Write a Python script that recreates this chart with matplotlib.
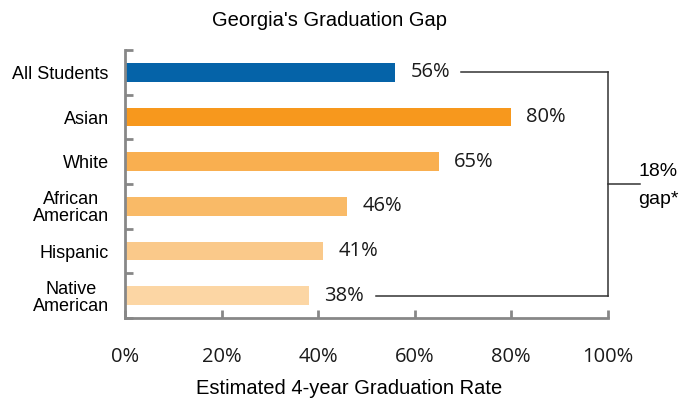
import matplotlib.pyplot as plt
import numpy as np

# Data
groups = ['All Students', 'Asian', 'White', 'African\nAmerican', 'Hispanic', 'Native\nAmerican']
rates = [56, 80, 65, 46, 41, 38]
bar_colors = ['#0563a8', '#f7981d', '#f9af50', '#f9ba67', '#fac98a', '#fcd6a4']
x_ticks = [0, 20, 40, 60, 80, 100]
x_tick_labels = ['0%', '20%', '40%', '60%', '80%', '100%']
gap_label = ['18%', 'gap*']

fig = plt.figure(figsize=(6.81, 4.0), dpi=100)
ax = fig.add_axes([125.5 / 681, 1 - 318 / 400, (607.5 - 125.5) / 681, (318 - 50) / 400])

y = np.arange(len(groups))
ax.barh(y, rates, height=0.42, color=bar_colors, zorder=2)

ax.set_xlim(0, 100)
ax.set_ylim(len(groups) - 0.5, -0.5)

# Value labels next to each bar
for yi, r in zip(y, rates):
    ax.annotate(f'{r}%', xy=(r, yi), xytext=(11, 0), textcoords='offset points',
                ha='left', va='center', fontsize=14.5, family='Open Sans', color='#1a1a1a')

# Spines / ticks
for side in ['top', 'right']:
    ax.spines[side].set_visible(False)
for side in ['left', 'bottom']:
    ax.spines[side].set_color('#878787')
    ax.spines[side].set_linewidth(2)

ax.set_xticks(x_ticks)
ax.set_xticklabels(x_tick_labels, family='Open Sans', fontsize=14.5, color='#1a1a1a')
ax.tick_params(axis='x', direction='in', length=6, width=2, color='#878787', pad=21)

ax.set_yticks(y)
ax.set_yticklabels(groups, family='Liberation Sans', fontsize=13)
for lab in ax.get_yticklabels():
    lab.set_multialignment('center')
    lab.set_linespacing(1.0)
ax.tick_params(axis='y', which='major', length=0, pad=12)
ax.set_yticks(np.arange(-0.5, len(groups), 1.0), minor=True)
ax.tick_params(axis='y', which='minor', direction='in', length=6, width=2, color='#878787')

# Gap bracket between "All Students" and lowest group
line_kw = dict(color='#333333', linewidth=1.1, clip_on=False)
ax.plot([69.6, 100.1], [0, 0], **line_kw)
ax.plot([52.0, 100.1], [5, 5], **line_kw)
ax.plot([100.1, 100.1], [0, 5], **line_kw)
ax.plot([100.1, 106.7], [2.5, 2.5], **line_kw)
ax.text(106.4, 2.22, gap_label[0], ha='left', va='center', fontsize=14,
        family='Liberation Sans', clip_on=False)
ax.text(106.4, 2.85, gap_label[1], ha='left', va='center', fontsize=14,
        family='Liberation Sans', clip_on=False)

fig.text(330 / 681, 1 - 20 / 400, "Georgia's Graduation Gap", ha='center', va='center',
         fontsize=14.5, family='Liberation Sans')
fig.text(349 / 681, 1 - 389 / 400, 'Estimated 4-year Graduation Rate', ha='center', va='center',
         fontsize=14.5, family='Liberation Sans')

fig.savefig('out.png', dpi=100)
